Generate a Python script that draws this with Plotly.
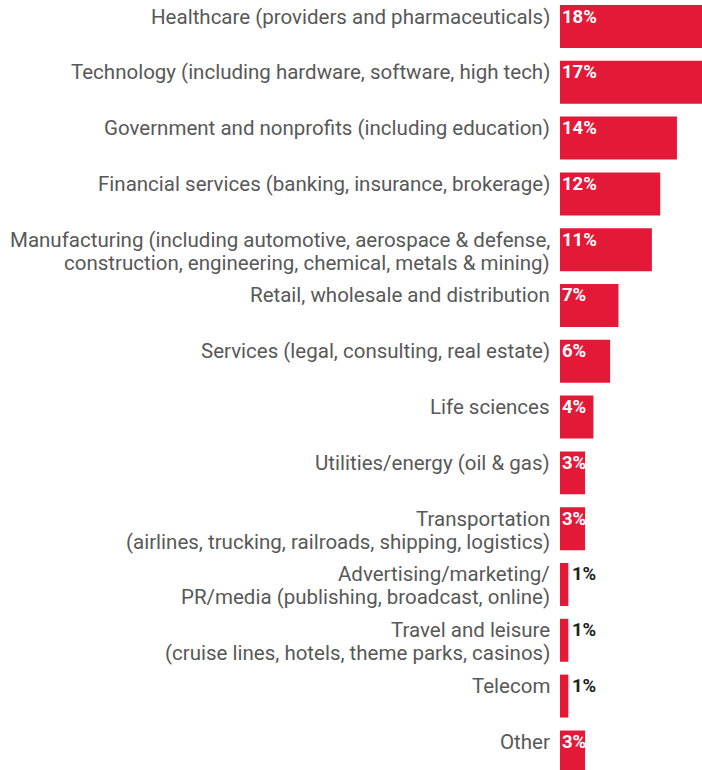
import plotly.graph_objects as go

categories = [
    "Healthcare (providers and pharmaceuticals)",
    "Technology (including hardware, software, high tech)",
    "Government and nonprofits (including education)",
    "Financial services (banking, insurance, brokerage)",
    "Manufacturing (including automotive, aerospace & defense,<br>construction, engineering, chemical, metals & mining)",
    "Retail, wholesale and distribution",
    "Services (legal, consulting, real estate)",
    "Life sciences",
    "Utilities/energy (oil & gas)",
    "Transportation<br>(airlines, trucking, railroads, shipping, logistics)",
    "Advertising/marketing/<br>PR/media (publishing, broadcast, online)",
    "Travel and leisure<br>(cruise lines, hotels, theme parks, casinos)",
    "Telecom",
    "Other",
]
values = [18, 17, 14, 12, 11, 7, 6, 4, 3, 3, 1, 1, 1, 3]
value_labels = ["18%", "17%", "14%", "12%", "11%", "7%", "6%", "4%", "3%", "3%", "1%", "1%", "1%", "3%"]

RED = "#E31937"
FONT = "Roboto"

idx = list(range(len(categories)))

fig = go.Figure(
    go.Bar(
        x=values,
        y=idx,
        orientation="h",
        marker=dict(color=RED, line=dict(width=0)),
        width=0.77,
        hoverinfo="skip",
    )
)

annotations = []
for i, (cat, v, lab) in enumerate(zip(categories, values, value_labels)):
    lines = cat.split("<br>")
    for k, line in enumerate(lines):
        annotations.append(dict(
            x=0, xref="x", y=i, yref="y",
            text=line, showarrow=False, xanchor="right", yanchor="middle",
            xshift=-8, yshift=10 - 23 * k, align="right",
            font=dict(family=FONT, size=20.5, color="#585858"),
        ))
    inside = v >= 2
    annotations.append(dict(
        x=0 if inside else v, xref="x", y=i, yref="y",
        text="<b>%s</b>" % lab, showarrow=False, xanchor="left", yanchor="middle",
        xshift=0 if inside else 2, yshift=10,
        font=dict(family=FONT, size=18.5, color="#ffffff" if inside else "#222222"),
    ))

fig.update_layout(
    width=702, height=770,
    margin=dict(l=560, r=0, t=0, b=0),
    paper_bgcolor="white", plot_bgcolor="white",
    showlegend=False,
    xaxis=dict(range=[0, 17], visible=False, fixedrange=True),
    yaxis=dict(range=[13.325, -0.475], visible=False, fixedrange=True),
    annotations=annotations,
)

fig.write_html(
    "out.html",
    config={"displayModeBar": False, "staticPlot": True},
    post_script="document.body.style.margin='0';document.body.style.overflow='hidden';",
)
